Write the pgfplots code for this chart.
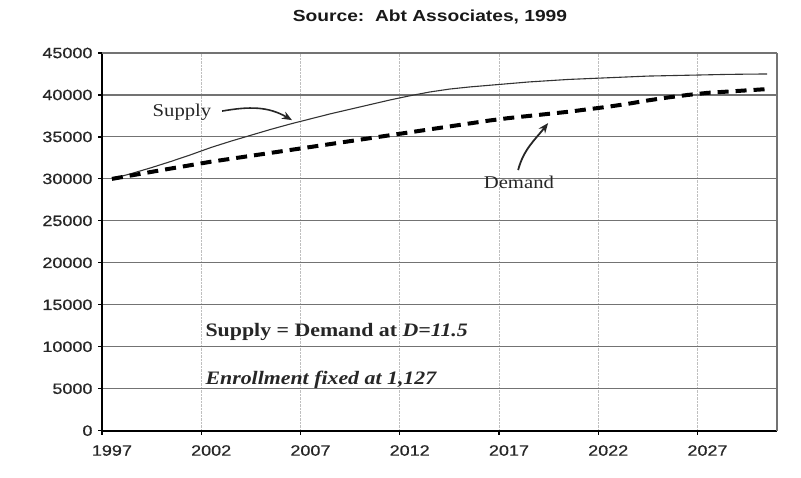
\documentclass[border=0pt]{standalone}
\usepackage{fontspec}
\usepackage{pgfplots}
\pgfplotsset{compat=1.18}
\usetikzlibrary{arrows.meta}
\newfontfamily\tickfont[FakeStretch=1.2,FakeBold=0.6]{Liberation Sans}
\newfontfamily\titlefont[FakeStretch=1.2]{Liberation Sans}
\newfontfamily\annfont[FakeStretch=1.15]{Liberation Serif}
\begin{document}
\begin{tikzpicture}
\useasboundingbox (-102pt,-47.3pt) rectangle (699pt,430.7pt);
\begin{axis}[
  scale only axis, width=675pt, height=377.7pt,
  at={(0pt,0pt)}, anchor=south west,
  xmin=1996.5, xmax=2030.5, ymin=0, ymax=45000,
  xtick={1996.5,2001.5,2006.5,2011.5,2016.5,2021.5,2026.5},
  xticklabels={1997,2002,2007,2012,2017,2022,2027},
  xticklabel style={xshift=9.9pt, yshift=-7pt},
  yticklabel style={xshift=-2pt},
  ytick={0,5000,10000,15000,20000,25000,30000,35000,40000,45000},
  scaled y ticks=false,
  /pgf/number format/1000 sep={},
  /pgf/number format/assume math mode=true,
  ticklabel style={font=\tickfont\fontsize{15}{15}\selectfont, text=black!85},
  axis lines*=left,
  axis line style={-, line width=2.2pt, black},
  tick align=outside, major tick length=4pt,
  tick style={black, line width=1.2pt},
  xmajorgrids, ymajorgrids,
  x grid style={densely dotted, black!25, line width=0.8pt},
  y grid style={black!55, line width=1.1pt},
  clip=false,
]
\draw[black!55, line width=1.1pt] (rel axis cs:1,0) -- (rel axis cs:1,1);
\draw[black!55, line width=1.1pt] (rel axis cs:0,1) -- (rel axis cs:1,1);
% Supply
\addplot[black!80, line width=1.1pt] coordinates {
(1997,30000)(1998,30650)(1999,31350)(2000,32100)(2001,32900)(2002,33750)
(2003,34500)(2004,35200)(2005,35900)(2006,36550)(2007,37150)(2008,37750)
(2009,38300)(2010,38850)(2011,39400)(2012,39900)(2013,40350)(2014,40700)
(2015,40950)(2016,41150)(2017,41350)(2018,41550)(2019,41700)(2020,41850)
(2021,41950)(2022,42050)(2023,42150)(2024,42250)(2025,42300)(2026,42350)
(2027,42400)(2028,42450)(2029,42480)(2030,42500)};
% Demand
\addplot[black, line width=4pt, dash pattern=on 11pt off 7pt] coordinates {
(1997,30000)(1998,30420)(1999,30840)(2000,31250)(2001,31650)(2002,32050)
(2003,32400)(2004,32750)(2005,33100)(2006,33450)(2007,33800)(2008,34150)
(2009,34500)(2010,34850)(2011,35200)(2012,35550)(2013,35900)(2014,36250)
(2015,36600)(2016,36950)(2017,37250)(2018,37500)(2019,37750)(2020,38000)
(2021,38300)(2022,38600)(2023,38950)(2024,39350)(2025,39700)(2026,40000)
(2027,40250)(2028,40400)(2029,40550)(2030,40700)};
\node[font=\annfont\fontsize{18}{18}\selectfont, text=black!85] at (axis cs:2000.53,37960) {Supply};
\draw[-{Stealth[length=10pt,width=8pt]}, line width=1.6pt, black!85]
  (axis cs:2002.55,38080) to[out=10,in=150] (axis cs:2006.07,37000);
\node[font=\annfont\fontsize{18}{18}\selectfont, text=black!85] at (axis cs:2017.5,29600) {Demand};
\draw[-{Stealth[length=10pt,width=8pt]}, line width=1.8pt, black!85]
  (axis cs:2017.46,31050) to[out=75,in=232] (axis cs:2018.97,36650);
\node[anchor=west, font=\annfont\bfseries\fontsize{19}{19}\selectfont, text=black!85]
  at (axis cs:2001.54,11755) {Supply = Demand at \textit{D=11.5}};
\node[anchor=west, font=\annfont\bfseries\itshape\fontsize{19}{19}\selectfont, text=black!85]
  at (axis cs:2001.54,6040) {Enrollment fixed at 1,127};
\end{axis}
\node[font=\titlefont\bfseries\fontsize{16}{16}\selectfont, text=black!90] at (328pt,413.7pt) {Source:\ \ Abt Associates, 1999};
\end{tikzpicture}
\end{document}
